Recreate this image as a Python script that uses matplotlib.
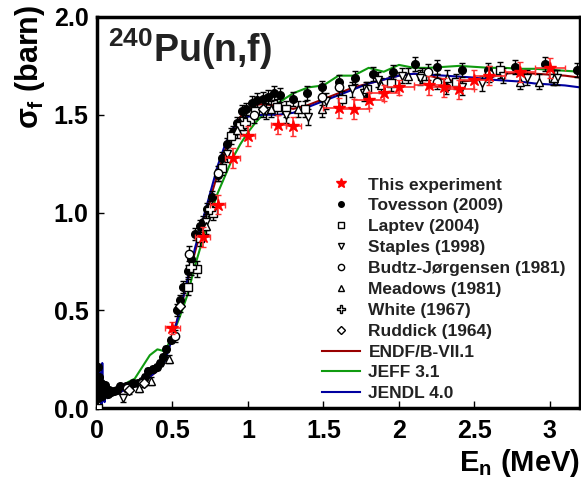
import numpy as np
import matplotlib
matplotlib.use('Agg')
import matplotlib.pyplot as plt
from matplotlib.lines import Line2D

plt.rcParams['font.family'] = 'Liberation Sans'
plt.rcParams['font.weight'] = 'bold'
plt.rcParams['mathtext.fontset'] = 'custom'
plt.rcParams['mathtext.rm'] = 'Liberation Sans:bold'
plt.rcParams['mathtext.it'] = 'Liberation Sans'
plt.rcParams['mathtext.bf'] = 'Liberation Sans:bold'

# ---- this experiment (red stars)
exp_E = [0.50, 0.70, 0.80, 0.90, 1.00, 1.20, 1.30, 1.60, 1.70, 1.80, 1.90, 2.00, 2.20, 2.30, 2.40, 2.50, 2.60, 2.80, 3.00]
exp_sig = [0.41, 0.875, 1.04, 1.28, 1.39, 1.45, 1.44, 1.535, 1.53, 1.575, 1.61, 1.64, 1.65, 1.64, 1.63, 1.68, 1.70, 1.72, 1.74]
exp_xerr = [0.05, 0.05, 0.05, 0.05, 0.05, 0.05, 0.05, 0.1, 0.1, 0.1, 0.1, 0.1, 0.1, 0.1, 0.1, 0.1, 0.1, 0.1, 0.1]
exp_yerr = [0.03, 0.05, 0.05, 0.05, 0.05, 0.05, 0.05, 0.05, 0.05, 0.04, 0.04, 0.04, 0.05, 0.05, 0.05, 0.05, 0.05, 0.05, 0.05]

# ---- Tovesson (2009)
tov_E = [0.002, 0.005, 0.008, 0.012, 0.015, 0.02, 0.025, 0.03, 0.035, 0.04, 0.045, 0.05, 0.06, 0.07, 0.08, 0.09,
         0.11, 0.13, 0.15, 0.19, 0.22, 0.24, 0.27, 0.30, 0.32, 0.34, 0.37, 0.40, 0.42, 0.44, 0.46, 0.49,
         0.53, 0.55, 0.57, 0.60, 0.62, 0.65, 0.68, 0.70, 0.73, 0.76, 0.80, 0.83, 0.86, 0.90, 0.93, 0.96, 0.99,
         1.03, 1.06, 1.10, 1.13, 1.17, 1.21, 1.30, 1.39, 1.49, 1.60, 1.71, 1.83, 1.96, 2.11, 2.25, 2.31,
         2.42, 2.59, 2.77, 2.97, 3.18]
tov_sig = [0.0, 0.21, 0.05, 0.12, 0.16, 0.08, 0.13, 0.10, 0.06, 0.11, 0.09, 0.12, 0.08, 0.07, 0.09, 0.08,
           0.085, 0.09, 0.11, 0.11, 0.12, 0.13, 0.13, 0.14, 0.16, 0.19, 0.20, 0.21, 0.23, 0.26, 0.30, 0.35,
           0.50, 0.55, 0.62, 0.70, 0.76, 0.89, 0.93, 0.95, 1.02, 1.08, 1.19, 1.28, 1.35, 1.41, 1.46, 1.52, 1.53,
           1.56, 1.575, 1.58, 1.59, 1.61, 1.60, 1.58, 1.61, 1.64, 1.67, 1.69, 1.71, 1.72, 1.76, 1.745, 1.64,
           1.73, 1.73, 1.745, 1.76, 1.73]
tov_err = [0.01] * 16 + [0.015] * 16 + [0.03] * 17 + [0.035] * 21

# ---- Laptev (2004)
lap_E = [0.005, 0.60, 0.66, 0.68, 0.77, 0.83, 0.89, 0.95, 1.05, 1.19, 1.25, 1.38, 1.62, 1.79, 1.95, 2.15, 2.38, 2.67, 3.02]
lap_sig = [0.0, 0.62, 0.71, 0.87, 1.00, 1.23, 1.39, 1.44, 1.52, 1.54, 1.53, 1.53, 1.58, 1.63, 1.66, 1.70, 1.67, 1.73, 1.69]
lap_err = [0.01, 0.04, 0.04, 0.04, 0.04, 0.04, 0.04, 0.04, 0.04, 0.04, 0.04, 0.04, 0.04, 0.04, 0.04, 0.04, 0.04, 0.04, 0.04]

# ---- Staples (1998)
sta_E = [0.17, 0.72, 0.86, 0.97, 1.12, 1.25, 1.40, 1.52, 1.69, 1.77, 1.86, 2.02, 2.14, 2.42, 2.55, 2.69, 2.85, 3.05]
sta_sig = [0.05, 0.95, 1.30, 1.47, 1.52, 1.50, 1.49, 1.57, 1.63, 1.61, 1.68, 1.70, 1.69, 1.64, 1.66, 1.70, 1.69, 1.69]
sta_err = [0.02] + [0.04] * 17

# ---- Budtz-Jorgensen (1981)
bud_E = [0.20, 0.30, 0.52, 0.61, 0.80, 1.04, 1.49, 1.60, 2.19, 2.25, 2.60]
bud_sig = [0.10, 0.13, 0.37, 0.79, 1.20, 1.50, 1.59, 1.64, 1.72, 1.67, 1.71]
bud_err = [0.02, 0.02, 0.03, 0.04, 0.04, 0.04, 0.04, 0.04, 0.04, 0.04, 0.04]

# ---- Meadows (1981)
mea_E = [0.28, 0.36, 0.48, 0.72, 0.93, 1.15, 1.33, 1.49, 1.78, 1.88, 2.06, 2.32, 2.80, 2.93, 3.03]
mea_sig = [0.10, 0.14, 0.25, 0.93, 1.42, 1.53, 1.53, 1.53, 1.63, 1.65, 1.70, 1.69, 1.67, 1.67, 1.69]
mea_err = [0.02, 0.02, 0.02, 0.04, 0.04, 0.04, 0.04, 0.04, 0.04, 0.04, 0.04, 0.04, 0.04, 0.04, 0.04]

# ---- White (1967)
whi_E = [0.62, 0.75, 0.98]
whi_sig = [0.72, 1.02, 1.46]
whi_err = [0.04, 0.04, 0.04]

# ---- Ruddick (1964)
rud_E = [0.21, 0.31, 0.55, 1.10]
rud_sig = [0.09, 0.13, 0.52, 1.53]
rud_err = [0.02, 0.02, 0.03, 0.04]

# ---- evaluations
ev_E = [0.0, 0.005, 0.01, 0.015, 0.02, 0.025, 0.03, 0.035, 0.04, 0.045, 0.05, 0.055, 0.06, 0.07, 0.08,
        0.1, 0.15, 0.2, 0.25, 0.3, 0.35, 0.4, 0.45, 0.5, 0.55, 0.6, 0.65, 0.7, 0.75, 0.8, 0.85, 0.9, 0.95,
        1.0, 1.05, 1.1, 1.2, 1.3, 1.4, 1.5, 1.6, 1.7, 1.8, 1.9, 2.0, 2.1, 2.2, 2.3, 2.4, 2.5, 2.6, 2.7,
        2.8, 2.9, 3.0, 3.1, 3.2]
endf_sig = [0.0, 0.08, 0.05, 0.12, 0.06, 0.10, 0.07, 0.14, 0.06, 0.09, 0.05, 0.08, 0.07, 0.07, 0.07,
            0.075, 0.08, 0.10, 0.11, 0.13, 0.16, 0.19, 0.25, 0.37, 0.50, 0.65, 0.80, 0.94, 1.07, 1.20, 1.32, 1.42, 1.49,
            1.53, 1.55, 1.555, 1.545, 1.53, 1.55, 1.58, 1.61, 1.64, 1.66, 1.68, 1.70, 1.71, 1.70, 1.68, 1.67, 1.675, 1.69, 1.71,
            1.715, 1.71, 1.705, 1.70, 1.69]
jeff_sig = [0.0, 0.08, 0.06, 0.10, 0.07, 0.09, 0.07, 0.10, 0.07, 0.08, 0.07, 0.08, 0.08, 0.08, 0.08,
            0.08, 0.10, 0.13, 0.15, 0.21, 0.27, 0.30, 0.29, 0.37, 0.47, 0.58, 0.73, 0.86, 0.99, 1.10, 1.19, 1.28, 1.35,
            1.41, 1.46, 1.50, 1.56, 1.61, 1.64, 1.65, 1.70, 1.70, 1.74, 1.72, 1.755, 1.74, 1.74, 1.745, 1.75, 1.745, 1.74, 1.74,
            1.735, 1.735, 1.73, 1.725, 1.72]
jendl_sig = [0.0, 0.15, 0.03, 0.22, 0.05, 0.18, 0.02, 0.23, 0.04, 0.12, 0.03, 0.10, 0.06, 0.05, 0.07,
             0.07, 0.08, 0.10, 0.11, 0.13, 0.16, 0.19, 0.24, 0.36, 0.50, 0.66, 0.82, 0.96, 1.10, 1.24, 1.35, 1.43, 1.48,
             1.49, 1.495, 1.50, 1.50, 1.51, 1.54, 1.57, 1.60, 1.63, 1.66, 1.68, 1.70, 1.71, 1.705, 1.70, 1.695, 1.69, 1.68, 1.675,
             1.67, 1.66, 1.655, 1.65, 1.64]

fig = plt.figure(figsize=(5.81, 4.78), dpi=100)
ax = fig.add_axes([97/581, 70/478, 483/581, 391/478])

ax.plot(ev_E, endf_sig, color='#990000', lw=1.5, zorder=2)
ax.plot(ev_E, jeff_sig, color='#109b10', lw=1.5, zorder=2)
ax.plot(ev_E, jendl_sig, color='#0000a0', lw=1.5, zorder=2.1)

ebkw = dict(ecolor='black', elinewidth=1, capsize=2, capthick=1, linestyle='none', zorder=3)
ax.errorbar(tov_E, tov_sig, yerr=tov_err, fmt='o', ms=5.5, mfc='black', mec='black', **ebkw)
ax.errorbar(lap_E, lap_sig, yerr=lap_err, fmt='s', ms=6, mfc='white', mec='black', mew=1, **ebkw)
ax.errorbar(sta_E, sta_sig, yerr=sta_err, fmt='v', ms=6, mfc='white', mec='black', mew=1, **ebkw)
ax.errorbar(bud_E, bud_sig, yerr=bud_err, fmt='o', ms=6, mfc='white', mec='black', mew=1, **ebkw)
ax.errorbar(mea_E, mea_sig, yerr=mea_err, fmt='^', ms=6, mfc='white', mec='black', mew=1, **ebkw)
ax.errorbar(whi_E, whi_sig, yerr=whi_err, fmt='P', ms=7, mfc='white', mec='black', mew=1, **ebkw)
ax.errorbar(rud_E, rud_sig, yerr=rud_err, fmt='D', ms=5, mfc='white', mec='black', mew=1, **ebkw)
ax.errorbar(exp_E, exp_sig, xerr=exp_xerr, yerr=exp_yerr, fmt='*', ms=9, color='red',
            ecolor='#ff3030', elinewidth=1.2, capsize=2, capthick=1, zorder=4)

ax.set_xlim(0, 3.2)
ax.set_ylim(0, 2.0)
ax.set_xticks([0, 0.5, 1, 1.5, 2, 2.5, 3])
ax.set_xticklabels(['0', '0.5', '1', '1.5', '2', '2.5', '3'])
ax.set_yticks([0, 0.5, 1.0, 1.5, 2.0])
ax.set_yticklabels(['0.0', '0.5', '1.0', '1.5', '2.0'])
ax.tick_params(direction='in', length=5, width=1, labelsize=18, pad=6)
ax.tick_params(axis='x', pad=8)
for s in ax.spines.values():
    s.set_linewidth(2.5)

ax.set_xlabel(r'E$_{\mathrm{n}}$ (MeV)', fontsize=21, fontweight='bold')
ax.xaxis.set_label_coords(1.0, -0.1)
ax.xaxis.label.set_horizontalalignment('right')
ax.set_ylabel(r'$\sigma_{\mathit{f}}$ (barn)', fontsize=22, fontweight='bold')
ax.yaxis.set_label_coords(-0.138, 1.03)
ax.yaxis.label.set_horizontalalignment('right')
ax.yaxis.label.set_verticalalignment('center')

ax.text(0.022, 0.975, r'$^{240}$Pu(n,f)', transform=ax.transAxes, fontsize=27,
        fontweight='bold', va='top', ha='left', color='#222222')

handles = [
    Line2D([], [], marker='*', color='red', ls='none', ms=7),
    Line2D([], [], marker='o', color='black', ls='none', ms=4),
    Line2D([], [], marker='s', mfc='white', mec='black', ls='none', ms=4.5),
    Line2D([], [], marker='v', mfc='white', mec='black', ls='none', ms=4.5),
    Line2D([], [], marker='o', mfc='white', mec='black', ls='none', ms=4.5),
    Line2D([], [], marker='^', mfc='white', mec='black', ls='none', ms=4.5),
    Line2D([], [], marker='P', mfc='white', mec='black', ls='none', ms=6),
    Line2D([], [], marker='D', mfc='white', mec='black', ls='none', ms=4),
    Line2D([], [], color='#990000', lw=1.5),
    Line2D([], [], color='#109b10', lw=1.5),
    Line2D([], [], color='#0000a0', lw=1.5),
]
labels = ['This experiment', 'Tovesson (2009)', 'Laptev (2004)', 'Staples (1998)',
          'Budtz-J\u00f8rgensen (1981)', 'Meadows (1981)', 'White (1967)', 'Ruddick (1964)',
          'ENDF/B-VII.1', 'JEFF 3.1', 'JENDL 4.0']
leg = ax.legend(handles, labels, loc='upper left', bbox_to_anchor=(0.447, 0.612), frameon=False,
                handlelength=2.2, handletextpad=0.5, labelspacing=0.33,
                borderpad=0, prop={'weight': 'bold', 'size': 12.5})
for t in leg.get_texts():
    t.set_color('#222222')

fig.savefig('out.png', dpi=100)
